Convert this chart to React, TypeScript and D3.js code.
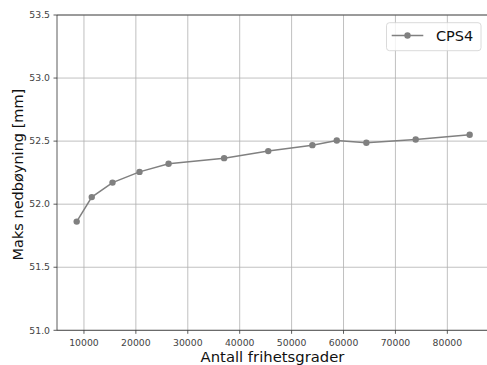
import React from "react";
import * as d3 from "d3";

const dofs = [8600, 11500, 15500, 20700, 26300, 37000, 45500, 54000, 58700, 64400, 73900, 84300];
const deflection = [51.862, 52.056, 52.171, 52.256, 52.32, 52.365, 52.421, 52.468, 52.505, 52.487, 52.513, 52.55];
const xTicks = [10000, 20000, 30000, 40000, 50000, 60000, 70000, 80000];
const yTicks = [51.0, 51.5, 52.0, 52.5, 53.0, 53.5];
const seriesName = "CPS4";
const xLabel = "Antall frihetsgrader";
const yLabel = "Maks nedbøyning [mm]";

const W = 487;
const H = 365;
const left = 57;
const right = 489.4;
const top = 15;
const bottom = 330.3;

export default function App() {
  const x = d3.scaleLinear().domain([4806, 88102]).range([left, right]);
  const y = d3.scaleLinear().domain([51, 53.5]).range([bottom, top]);
  const line = d3
    .line<number>()
    .x((_, i) => x(dofs[i]))
    .y((d) => y(d));
  const font = "DejaVu Sans, sans-serif";
  const color = "#808080";
  const fmtY = d3.format(".1f");
  return (
    <svg
      width={W}
      height={H}
      style={{ position: "absolute", left: 0, top: 0, background: "#fff" }}
      fontFamily={font}
    >
      <rect x={0} y={0} width={W} height={H} fill="#fff" />
      {/* grid */}
      {xTicks.map((t) => (
        <line key={"gx" + t} x1={x(t)} x2={x(t)} y1={top} y2={bottom} stroke="#b0b0b0" strokeWidth={0.8} />
      ))}
      {yTicks.map((t) => (
        <line key={"gy" + t} x1={left} x2={right} y1={y(t)} y2={y(t)} stroke="#b0b0b0" strokeWidth={0.8} />
      ))}
      {/* spines */}
      <line x1={left} x2={left} y1={top} y2={bottom} stroke="#333" strokeWidth={0.8} />
      <line x1={left} x2={right} y1={bottom} y2={bottom} stroke="#333" strokeWidth={0.8} />
      <line x1={left} x2={right} y1={top} y2={top} stroke="#333" strokeWidth={0.8} />
      <line x1={right} x2={right} y1={top} y2={bottom} stroke="#333" strokeWidth={0.8} />
      {/* ticks */}
      {xTicks.map((t) => (
        <g key={"tx" + t}>
          <line x1={x(t)} x2={x(t)} y1={bottom} y2={bottom + 3.5} stroke="#333" strokeWidth={0.8} />
          <text x={x(t)} y={bottom + 15.3} textAnchor="middle" fontSize={9.3} fill="#444">
            {t}
          </text>
        </g>
      ))}
      {yTicks.map((t) => (
        <g key={"ty" + t}>
          <line x1={left - 3.5} x2={left} y1={y(t)} y2={y(t)} stroke="#333" strokeWidth={0.8} />
          <text x={left - 7} y={y(t)} dy="0.35em" textAnchor="end" fontSize={9.3} fill="#444">
            {fmtY(t)}
          </text>
        </g>
      ))}
      {/* data */}
      <path d={line(deflection) || ""} fill="none" stroke={color} strokeWidth={1.5} />
      {deflection.map((d, i) => (
        <circle key={"p" + i} cx={x(dofs[i])} cy={y(d)} r={3.2} fill={color} />
      ))}
      {/* axis labels */}
      <text x={272.5} y={362} textAnchor="middle" fontSize={14.8} fill="#111">
        {xLabel}
      </text>
      <text
        transform={`translate(22.5, ${(top + bottom) / 2 + 2}) rotate(-90)`}
        textAnchor="middle"
        fontSize={14.5}
        fill="#111"
      >
        {yLabel}
      </text>
      {/* legend */}
      <rect x={386.5} y={22.7} width={94.5} height={28} rx={3} fill="#fff" fillOpacity={0.8} stroke="#d0d0d0" strokeWidth={0.8} />
      <line x1={391.7} x2={423.3} y1={35.5} y2={35.5} stroke={color} strokeWidth={1.5} />
      <circle cx={407.5} cy={35.5} r={3.2} fill={color} />
      <text x={436} y={41} fontSize={14.5} fill="#111">
        {seriesName}
      </text>
    </svg>
  );
}
